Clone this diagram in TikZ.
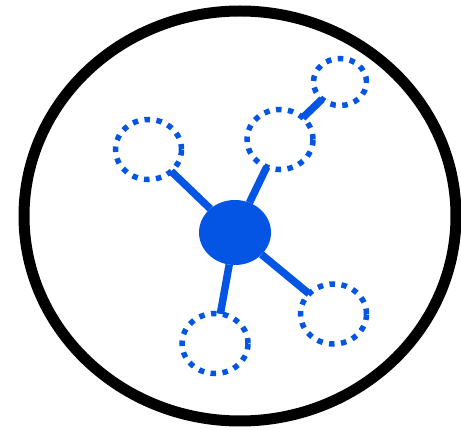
\documentclass[tikz,border=0pt]{standalone}
\usetikzlibrary{shapes.geometric}
\definecolor{hubblue}{RGB}{4,85,227}
\begin{document}
\begin{tikzpicture}[x=1pt,y=-1pt,
  hub/.style={ellipse,fill=hubblue,inner sep=0pt,minimum width=72pt,minimum height=65pt,outer sep=0pt},
  leaf/.style={ellipse,draw=hubblue,line width=5.5pt,dash pattern=on 5.5pt off 6.5pt,inner sep=0pt,outer sep=0pt,minimum width=66pt,minimum height=60pt},
  small/.style={leaf,minimum width=53pt,minimum height=47pt},
  link/.style={draw=hubblue,line width=7.5pt}]
\useasboundingbox (0,0) rectangle (461,430);
\node[draw=black,line width=11pt,ellipse,minimum width=432pt,minimum height=410pt,inner sep=0pt] (frame) at (240,216) {};
\node[hub] (c) at (235,232.5) {};
\node[leaf] (l) at (148.5,149.5) {};
\node[leaf] (m) at (280,139.5) {};
\node[small] (t) at (340,82) {};
\node[leaf] (r) at (333.5,314) {};
\node[leaf] (b) at (215,343.5) {};
\draw[link] (c) -- (l);
\draw[link] (c) -- (m);
\draw[link] (c) -- (r);
\draw[link] (c) -- (b);
\draw[link] (m) -- (t);
\end{tikzpicture}
\end{document}
